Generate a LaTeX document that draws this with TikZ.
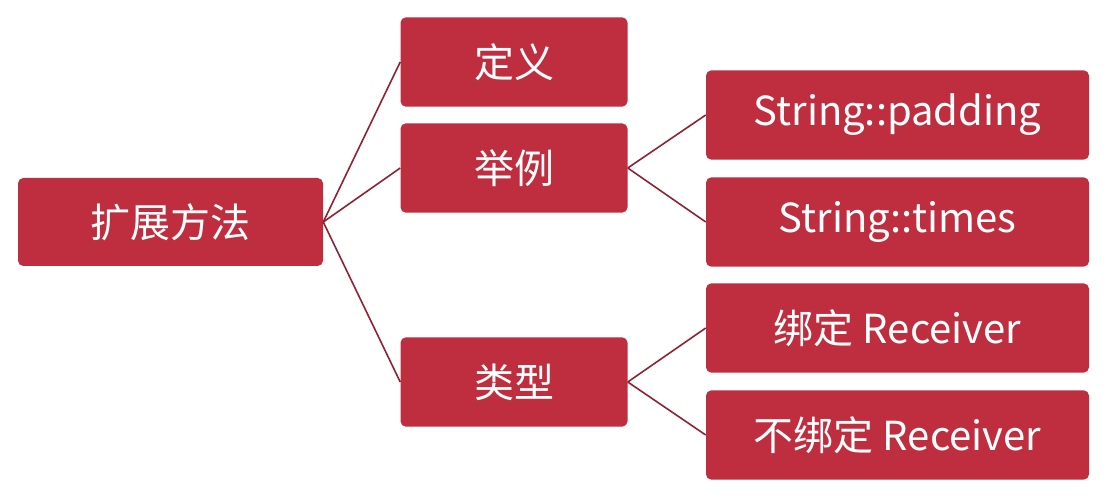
\documentclass[tikz,border=0pt]{standalone}
\usepackage{fontspec}
\setmainfont{Noto Sans CJK SC}
\definecolor{boxred}{HTML}{BE2E3E}
\definecolor{linered}{HTML}{8E2433}
\begin{document}
\begin{tikzpicture}[x=0.75pt,y=-0.75pt,
  box/.style={draw=none,fill=boxred,rounded corners=4pt,text=white,
    font=\fontsize{30}{34}\selectfont,inner sep=0pt,anchor=center},
  rootbox/.style={box,minimum width=228.75pt,minimum height=66pt},
  midbox/.style={box,minimum width=170.25pt,minimum height=67pt},
  leafbox/.style={box,minimum width=287.25pt,minimum height=67pt},
  conn/.style={draw=linered,line width=1.2pt}]
\useasboundingbox[fill=white] (0,0) rectangle (1108,502);
\node[rootbox] (root) at (170.5,222) {扩展方法};
\node[midbox] (def) at (514,62) {定义};
\node[midbox] (ex) at (514,168) {举例};
\node[midbox] (ty) at (514,382) {类型};
\node[leafbox] (pad) at (897.5,115) {String::padding};
\node[leafbox] (tim) at (897.5,222) {String::times};
\node[leafbox] (bnd) at (897.5,328) {绑定 Receiver};
\node[leafbox] (ubn) at (897.5,435) {不绑定 Receiver};
\draw[conn] (root.east) -- (def.west);
\draw[conn] (root.east) -- (ex.west);
\draw[conn] (root.east) -- (ty.west);
\draw[conn] (ex.east) -- (pad.west);
\draw[conn] (ex.east) -- (tim.west);
\draw[conn] (ty.east) -- (bnd.west);
\draw[conn] (ty.east) -- (ubn.west);
\end{tikzpicture}
\end{document}
